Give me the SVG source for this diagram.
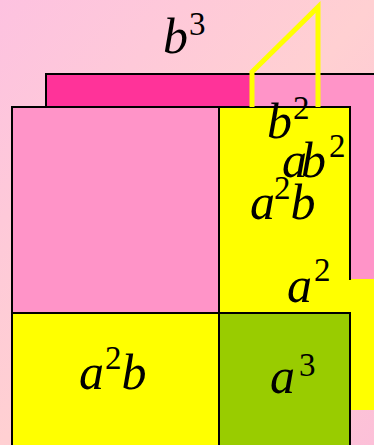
<svg xmlns="http://www.w3.org/2000/svg" width="374" height="445" viewBox="0 0 374 445">
<defs>
<linearGradient id="bg" x1="0" y1="0" x2="1" y2="1">
<stop offset="0" stop-color="#fdc2e0"/>
<stop offset="0.5" stop-color="#ffd0d2"/>
<stop offset="1" stop-color="#fcc0d8"/>
</linearGradient>
</defs>
<style>
.blk{stroke:#000;stroke-width:2}
.t{font-family:"Liberation Serif","Times New Roman",serif;font-style:italic;font-size:50px;fill:#000}
.s{font-style:normal;font-size:33px}
</style>
<rect x="0" y="0" width="374" height="445" fill="url(#bg)"/>
<g id="back-pink">
<rect x="46" y="74" width="340" height="205" fill="#ff94c8"/>
<line x1="46" y1="74" x2="374" y2="74" class="blk"/>
</g>
<g id="b3-slab">
<rect x="46" y="74" width="206" height="33" fill="#ff3399" class="blk"/>
</g>
<g id="right-strip">
<rect x="350" y="279" width="30" height="131" fill="#ffff00"/>
</g>
<g id="pink-square">
<rect x="12" y="107" width="207" height="206" fill="#ff94c8" class="blk"/>
</g>
<g id="yellow-upper">
<rect x="219" y="107" width="131" height="206" fill="#ffff00" class="blk"/>
<rect x="221" y="280" width="130" height="32" fill="#ffff00"/>
</g>
<g id="yellow-lower">
<rect x="12" y="313" width="207" height="140" fill="#ffff00" class="blk"/>
</g>
<g id="green-cube">
<rect x="219" y="313" width="131" height="140" fill="#99cc00" class="blk"/>
</g>
<g id="connectors">
<polyline points="252,107 252,72 318,7 318,107" fill="none" stroke="#ffff00" stroke-width="5"/>
</g>
<g id="labels">
<text class="t" x="163" y="53">b<tspan class="s" dx="1" dy="-18">3</tspan></text>
<text class="t" x="267" y="138">b<tspan class="s" dx="1" dy="-19">2</tspan></text>
<text class="t" x="282" y="177">a<tspan dx="-6">b</tspan><tspan class="s" dx="3" dy="-20">2</tspan></text>
<text class="t" x="250" y="219">a<tspan class="s" dx="-1" dy="-20">2</tspan><tspan dx="0" dy="20">b</tspan></text>
<text class="t" x="287" y="302">a<tspan class="s" dx="2" dy="-21">2</tspan></text>
<text class="t" x="270" y="393">a<tspan class="s" dx="4" dy="-17">3</tspan></text>
<text class="t" x="79" y="389">a<tspan class="s" dx="1" dy="-20">2</tspan><tspan dx="0" dy="20">b</tspan></text>
</g>
</svg>
